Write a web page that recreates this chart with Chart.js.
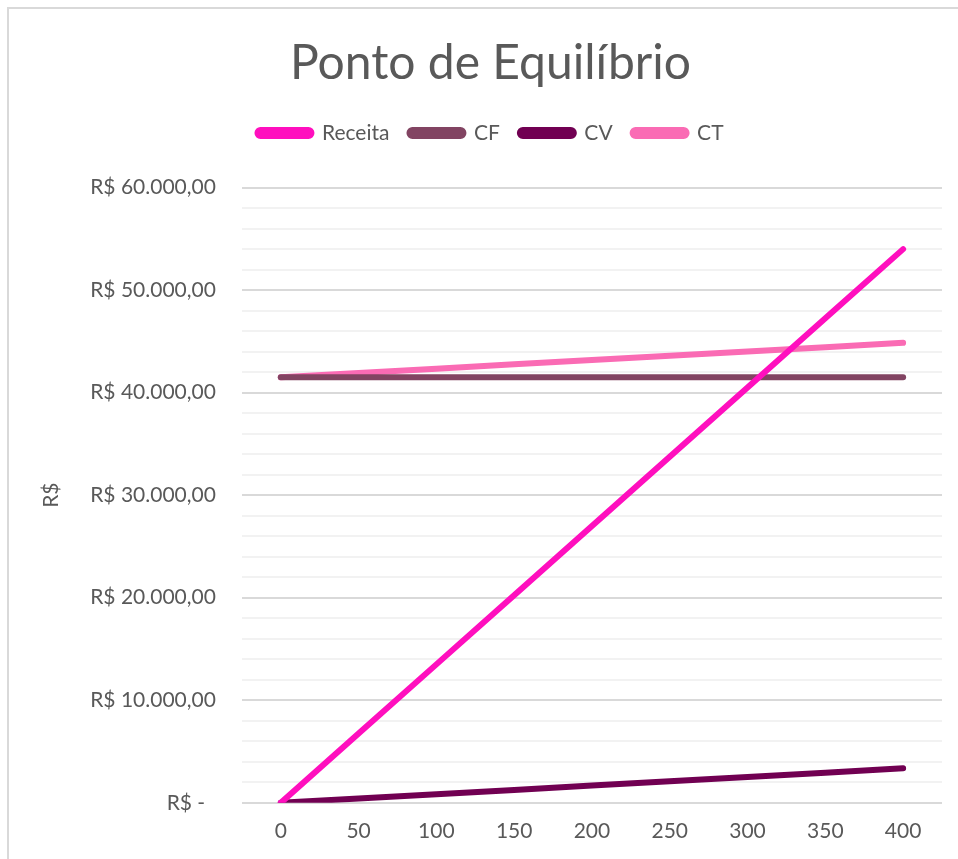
<!DOCTYPE html>
<html>
<head>
<meta charset="utf-8">
<script src="https://cdn.jsdelivr.net/npm/chart.js@4"></script>
<style>
    html, body { margin: 0; padding: 0; background: #fff; }
    #wrap {
        position: absolute; left: 7px; top: 7px; width: 951px; height: 852px;
        border-left: 2px solid #d9d9d9; border-top: 2px solid #d9d9d9;
        box-sizing: border-box;
    }
    #chart { position: absolute; left: 0; top: 0; }
</style>
</head>
<body>
<div id="wrap"><canvas id="chart" width="949" height="850"></canvas></div>
<script>
const categories = ['0', '50', '100', '150', '200', '250', '300', '350', '400'];
const receita = [0, 6750, 13500, 20250, 27000, 33750, 40500, 47250, 54000];
const cf = [41500, 41500, 41500, 41500, 41500, 41500, 41500, 41500, 41500];
const cv = [0, 420, 840, 1260, 1680, 2100, 2520, 2940, 3360];
const ct = [41500, 41920, 42340, 42760, 43180, 43600, 44020, 44440, 44860];
const yTickLabels = {
    0: 'R$ -  ',
    10000: 'R$ 10.000,00',
    20000: 'R$ 20.000,00',
    30000: 'R$ 30.000,00',
    40000: 'R$ 40.000,00',
    50000: 'R$ 50.000,00',
    60000: 'R$ 60.000,00'
};

const font = 'Lato, "Open Sans", sans-serif';
const gray = '#595959';

function series(label, data, color) {
    return {
        label: label,
        data: data,
        borderColor: color,
        backgroundColor: color,
        borderWidth: 6,
        borderCapStyle: 'round',
        pointRadius: 0,
        tension: 0
    };
}

// a bit more room under the legend, like the spreadsheet chart
const legendGap = {
    id: 'legendGap',
    beforeInit(chart) {
        const fit = chart.legend.fit;
        chart.legend.fit = function () {
            fit.bind(chart.legend)();
            this.height += 34;
        };
    }
};

new Chart(document.getElementById('chart').getContext('2d'), {
    type: 'line',
    data: {
        labels: categories,
        datasets: [
            series('Receita', receita, '#ff0fbe'),
            series('CF', cf, '#824462'),
            series('CV', cv, '#710052'),
            series('CT', ct, '#fa6bb4')
        ]
    },
    plugins: [legendGap],
    options: {
        responsive: false,
        animation: false,
        layout: { padding: { left: 30, right: 16, top: 0, bottom: 7 } },
        plugins: {
            title: {
                display: true,
                text: 'Ponto de Equilíbrio',
                color: gray,
                font: { family: font, size: 48, weight: 'normal' },
                padding: { top: 26, bottom: 10 }
            },
            legend: {
                labels: {
                    color: gray,
                    font: { family: font, size: 21 },
                    boxWidth: 54,
                    boxHeight: 6,
                    useBorderRadius: true,
                    borderRadius: 3,
                    padding: 20
                }
            },
            tooltip: { enabled: false }
        },
        scales: {
            x: {
                offset: true,
                grid: { display: false },
                border: { display: false },
                ticks: { color: gray, font: { family: font, size: 21 }, padding: 8 }
            },
            y: {
                min: 0,
                max: 60000,
                border: { display: false },
                grid: {
                    drawTicks: false,
                    color: ctx => ctx.tick.value % 10000 === 0 ? '#d9d9d9' : '#f2f2f2',
                    lineWidth: 2
                },
                ticks: {
                    stepSize: 2000,
                    autoSkip: false,
                    color: gray,
                    font: { family: font, size: 21 },
                    padding: 26,
                    callback: value => yTickLabels[value] || ''
                },
                title: {
                    display: true,
                    text: 'R$',
                    color: gray,
                    font: { family: font, size: 21 },
                    padding: 0
                }
            }
        }
    }
});
</script>
</body>
</html>
